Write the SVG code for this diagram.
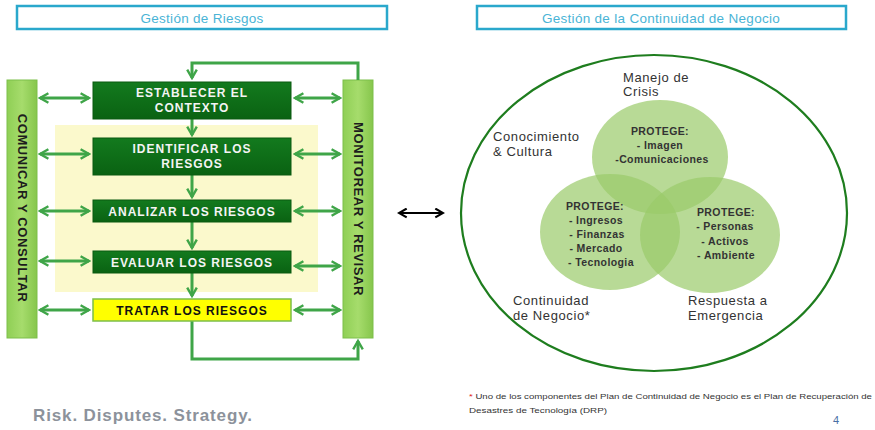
<svg xmlns="http://www.w3.org/2000/svg" width="875" height="430" viewBox="0 0 875 430">
<style>
.title{fill:#fff;stroke:#2aa8cc;stroke-width:2.5}
.tt{font-family:"Liberation Sans",Arial,sans-serif;font-size:13.5px;fill:#4ab4d6;text-anchor:middle;letter-spacing:0.3px}
.bar{fill:url(#gBar);stroke:#7cbf4a;stroke-width:1}
.bt{font-family:"Liberation Sans",Arial,sans-serif;font-size:13px;font-weight:bold;fill:#1d1d1d;text-anchor:middle;letter-spacing:0.6px}
.box{fill:url(#gBox);stroke:#0a5a10;stroke-width:1}
.bx{font-family:"Liberation Sans",Arial,sans-serif;font-size:12px;font-weight:bold;fill:#f4f4f4;text-anchor:middle;letter-spacing:1px}
.con{fill:none;stroke:#3fa548;stroke-width:3}
.lbl{font-family:"Liberation Sans",Arial,sans-serif;font-size:13px;fill:#333;letter-spacing:0.6px}
.pt{font-family:"Liberation Sans",Arial,sans-serif;font-size:10.5px;font-weight:bold;fill:#333;text-anchor:middle;letter-spacing:0.4px}
.vc{fill:#9acb6a;fill-opacity:0.7}
.fn{font-family:"Liberation Sans",Arial,sans-serif;font-size:7.6px;fill:#333}
</style>
<defs>
<linearGradient id="gBar" x1="0" y1="0" x2="1" y2="0">
<stop offset="0" stop-color="#8fcf55"/><stop offset="0.5" stop-color="#a6dc6c"/><stop offset="1" stop-color="#86c64c"/>
</linearGradient>
<linearGradient id="gBox" x1="0" y1="0" x2="0" y2="1">
<stop offset="0" stop-color="#137a1e"/><stop offset="1" stop-color="#0a6212"/>
</linearGradient>
<marker id="ah" viewBox="0 0 10 10" refX="8" refY="5" markerWidth="4" markerHeight="4" orient="auto-start-reverse">
<path d="M1,1 L8,5 L1,9" fill="none" stroke="#3fa548" stroke-width="2"/>
</marker>
<marker id="ahk" viewBox="0 0 10 10" refX="8" refY="5" markerWidth="5" markerHeight="5" orient="auto-start-reverse">
<path d="M1,1 L8,5 L1,9" fill="none" stroke="#000" stroke-width="2"/>
</marker>
</defs>
<rect width="875" height="430" fill="#fff"/>

<g id="title-riesgos">
<rect class="title" x="17" y="6" width="370" height="23"/>
<text class="tt" x="202" y="22.5">Gestión de Riesgos</text>
</g>
<g id="title-continuidad">
<rect class="title" x="477" y="6" width="369" height="23"/>
<text class="tt" x="661" y="22.5">Gestión de la Continuidad de Negocio</text>
</g>

<rect id="yellow-bg" x="55" y="125" width="263" height="167" fill="#fbf9cc"/>

<g id="comunicar">
<rect class="bar" x="7" y="80" width="30" height="258"/>
<text class="bt" transform="translate(17.5,208) rotate(90)">COMUNICAR Y CONSULTAR</text>
</g>
<g id="monitorear">
<rect class="bar" x="343" y="80" width="30" height="258"/>
<text class="bt" transform="translate(353.5,209) rotate(90)">MONITOREAR Y REVISAR</text>
</g>

<g id="connectors">
<path class="con" d="M358,80 V63 H192 V78" marker-end="url(#ah)"/>
<path class="con" d="M192,119 V135" marker-end="url(#ah)"/>
<path class="con" d="M192,175 V197" marker-end="url(#ah)"/>
<path class="con" d="M192,222 V248" marker-end="url(#ah)"/>
<path class="con" d="M192,273 V296" marker-end="url(#ah)"/>
<path class="con" d="M192,321 V359 H358 V341" marker-end="url(#ah)"/>
<path class="con" d="M40,98 H89" marker-start="url(#ah)" marker-end="url(#ah)"/>
<path class="con" d="M295,98 H340" marker-start="url(#ah)" marker-end="url(#ah)"/>
<path class="con" d="M40,154 H89" marker-start="url(#ah)" marker-end="url(#ah)"/>
<path class="con" d="M295,154 H340" marker-start="url(#ah)" marker-end="url(#ah)"/>
<path class="con" d="M40,211 H89" marker-start="url(#ah)" marker-end="url(#ah)"/>
<path class="con" d="M295,211 H340" marker-start="url(#ah)" marker-end="url(#ah)"/>
<path class="con" d="M40,261 H89" marker-start="url(#ah)" marker-end="url(#ah)"/>
<path class="con" d="M295,266 H340" marker-start="url(#ah)" marker-end="url(#ah)"/>
<path class="con" d="M40,310 H89" marker-start="url(#ah)" marker-end="url(#ah)"/>
<path class="con" d="M295,310 H340" marker-start="url(#ah)" marker-end="url(#ah)"/>
<path d="M399,213 H443" fill="none" stroke="#000" stroke-width="2.2" marker-start="url(#ahk)" marker-end="url(#ahk)"/>
</g>

<g id="establecer">
<rect class="box" x="93" y="82" width="198" height="37"/>
<text class="bx" x="192" y="97">ESTABLECER EL</text>
<text class="bx" x="192" y="112">CONTEXTO</text>
</g>
<g id="identificar">
<rect class="box" x="93" y="138" width="198" height="37"/>
<text class="bx" x="192" y="153">IDENTIFICAR LOS</text>
<text class="bx" x="192" y="168">RIESGOS</text>
</g>
<g id="analizar">
<rect class="box" x="93" y="200" width="198" height="22"/>
<text class="bx" x="192" y="215.5">ANALIZAR  LOS RIESGOS</text>
</g>
<g id="evaluar">
<rect class="box" x="93" y="251" width="198" height="22"/>
<text class="bx" x="192" y="266.5">EVALUAR LOS RIESGOS</text>
</g>
<g id="tratar">
<rect x="93" y="299" width="198" height="22" fill="#ffff00" stroke="#7cbf4a" stroke-width="1.5"/>
<text class="bx" x="192" y="314.5" style="fill:#111">TRATAR  LOS RIESGOS</text>
</g>

<g id="continuidad-circulo">
<ellipse cx="654" cy="213" rx="193" ry="158" fill="none" stroke="#1e7d1e" stroke-width="2.2"/>
</g>
<g id="manejo-crisis">
<ellipse class="vc" cx="660" cy="157" rx="68" ry="57"/>
<text class="pt" x="660" y="135">PROTEGE:</text>
<text class="pt" x="660" y="149">- Imagen</text>
<text class="pt" x="662" y="163">-Comunicaciones</text>
</g>
<g id="continuidad-negocio">
<ellipse class="vc" cx="610" cy="232" rx="70" ry="58"/>
<text class="pt" x="595" y="210">PROTEGE:</text>
<text class="pt" x="596" y="224">- Ingresos</text>
<text class="pt" x="597" y="238">- Finanzas</text>
<text class="pt" x="596" y="252">- Mercado</text>
<text class="pt" x="601" y="266">- Tecnologia</text>
</g>
<g id="respuesta-emergencia">
<ellipse class="vc" cx="710" cy="235" rx="70" ry="58"/>
<text class="pt" x="726" y="216">PROTEGE:</text>
<text class="pt" x="725" y="230">- Personas</text>
<text class="pt" x="725" y="245">- Activos</text>
<text class="pt" x="726" y="259">- Ambiente</text>
</g>

<g id="labels">
<text class="lbl" x="623" y="82">Manejo de</text>
<text class="lbl" x="623" y="96">Crisis</text>
<text class="lbl" x="493" y="141">Conocimiento</text>
<text class="lbl" x="493" y="156">&amp; Cultura</text>
<text class="lbl" x="513" y="305">Continuidad</text>
<text class="lbl" x="513" y="320">de Negocio*</text>
<text class="lbl" x="688" y="305">Respuesta  a</text>
<text class="lbl" x="688" y="320">Emergencia</text>
</g>

<g id="footer">
<text class="fn" x="469" y="399" textLength="403" lengthAdjust="spacingAndGlyphs"><tspan fill="#e02020">*</tspan> Uno de los componentes del Plan de Continuidad de Negocio es el Plan de  Recuperación de</text>
<text class="fn" x="469" y="413" textLength="138" lengthAdjust="spacingAndGlyphs">Desastres de Tecnología  (DRP)</text>
<text x="836" y="424" font-family="Liberation Sans,Arial,sans-serif" font-size="11" fill="#4a6fa5" text-anchor="middle">4</text>
<text x="33" y="421" font-family="Liberation Sans,Arial,sans-serif" font-size="17" font-weight="bold" fill="#8c929b" textLength="219" lengthAdjust="spacing">Risk. Disputes. Strategy.</text>
</g>
</svg>
